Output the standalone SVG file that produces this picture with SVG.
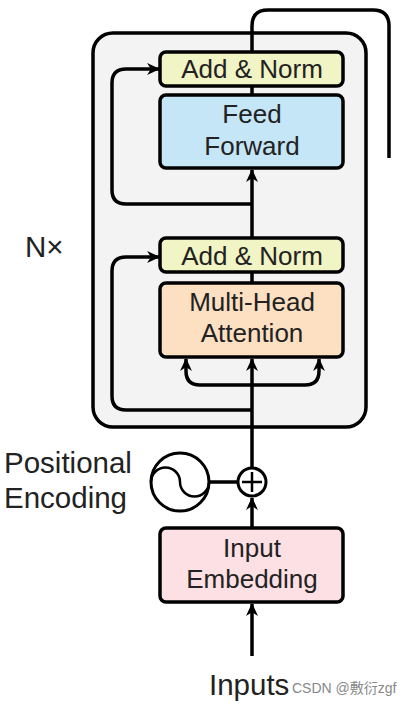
<svg xmlns="http://www.w3.org/2000/svg" width="411" height="704" viewBox="0 0 411 704">
<defs>
<style>
.box{stroke:#000;stroke-width:3.5}
.t{font-family:"Liberation Sans",Arial,sans-serif;font-size:26px;fill:#222;text-anchor:middle}
.lbl{font-family:"Liberation Sans",Arial,sans-serif;font-size:29.5px;fill:#222}
.ln{fill:none;stroke:#000;stroke-width:3.5}
.arr{marker-end:url(#ah)}
</style>
<marker id="ah" viewBox="0 0 12 12" refX="11" refY="6" markerWidth="13" markerHeight="13" markerUnits="userSpaceOnUse" orient="auto">
<path d="M0,0.5 L12,6 L0,11.5 L3.5,6 Z" fill="#000"/>
</marker>
</defs>
<rect width="411" height="704" fill="#fff"/>
<g id="encoder-block">
<rect x="93" y="33" width="273" height="394" rx="20" fill="#f3f3f3" stroke="#000" stroke-width="3.5"/>
</g>
<g id="connectors">
<path class="ln" d="M252,52 V26 Q252,10 268,10 H373 Q389,10 389,26 V158"/>
<path class="ln" d="M252,95 V86"/>
<path class="ln arr" d="M252,238 V170"/>
<path class="ln arr" d="M252,204 H126 Q112,204 112,190 V83 Q112,69 126,69 H159"/>
<path class="ln" d="M252,283 V272"/>
<path class="ln arr" d="M252,468 V359"/>
<path class="ln arr" d="M252,385 H200 Q186,385 186,371 V359"/>
<path class="ln arr" d="M252,385 H305 Q319,385 319,371 V359"/>
<path class="ln arr" d="M252,410 H126 Q112,410 112,396 V271 Q112,257 126,257 H159"/>
<path class="ln arr" d="M252,528 V498"/>
<path class="ln" d="M210,482 H238"/>
<path class="ln arr" d="M252,656 V604"/>
</g>
<g id="add-norm-2">
<rect class="box" x="160" y="52" width="183" height="34" rx="6" fill="#f1f4c4"/>
<text class="t" x="252" y="78">Add &amp; Norm</text>
</g>
<g id="feed-forward">
<rect class="box" x="160" y="95" width="183" height="73" rx="6" fill="#c4e6f6"/>
<text class="t" x="252" y="123">Feed</text>
<text class="t" x="252" y="155">Forward</text>
</g>
<g id="add-norm-1">
<rect class="box" x="160" y="238" width="183" height="34" rx="6" fill="#f1f4c4"/>
<text class="t" x="252" y="265">Add &amp; Norm</text>
</g>
<g id="multi-head-attention">
<rect class="box" x="160" y="283" width="183" height="74" rx="6" fill="#fde0c2"/>
<text class="t" x="252" y="311">Multi-Head</text>
<text class="t" x="252" y="342">Attention</text>
</g>
<g id="positional-encoding">
<circle cx="180" cy="482" r="29" fill="#fff" stroke="#000" stroke-width="3"/>
<path d="M151,482 A14.5,14.5 0 0 1 180,482 A14.5,14.5 0 0 0 209,482" fill="none" stroke="#000" stroke-width="2.5"/>
</g>
<g id="add">
<circle cx="252" cy="482" r="14" fill="#fff" stroke="#000" stroke-width="3"/>
<path d="M252,472 V492 M242,482 H262" stroke="#000" stroke-width="2.5"/>
</g>
<g id="input-embedding">
<rect class="box" x="160" y="528" width="183" height="74" rx="6" fill="#fce0e3"/>
<text class="t" x="252" y="557">Input</text>
<text class="t" x="252" y="588">Embedding</text>
</g>
<g id="labels">
<text class="lbl" x="4" y="473">Positional</text>
<text class="lbl" x="4" y="508">Encoding</text>
<text class="lbl" x="25" y="257" font-size="25">N×</text>
<text class="lbl" x="209" y="695">Inputs</text>
<text x="292" y="693" font-family="Liberation Sans,'Noto Sans CJK SC',sans-serif" font-size="14" fill="#888">CSDN @敷衍zgf</text>
</g>
</svg>
